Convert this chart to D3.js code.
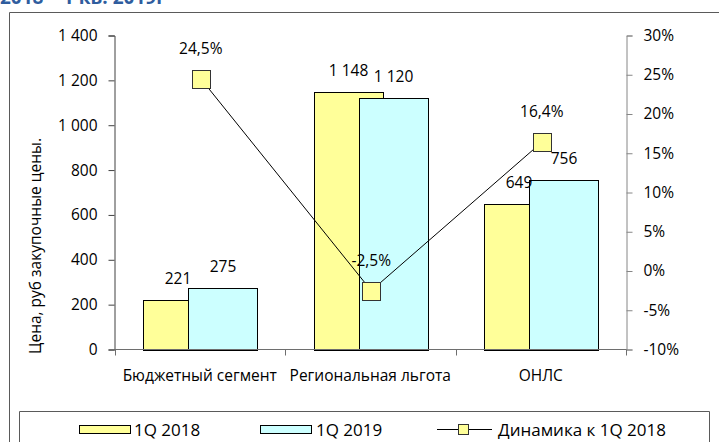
<!DOCTYPE html>
<html><head><meta charset="utf-8">
<script src="https://cdn.jsdelivr.net/npm/d3@7/dist/d3.min.js"></script>
<style>
html,body{margin:0;padding:0;background:#fff;}
svg{display:block;font-family:"Open Sans",sans-serif;}
</style></head>
<body>
<script>
const categories = ["Бюджетный сегмент", "Региональная льгота", "ОНЛС"];
const series2018 = [221, 1148, 649];
const series2019 = [275, 1120, 756];
const dynamics = [24.5, -2.5, 16.4];
const leftTicks = [0, 200, 400, 600, 800, 1000, 1200, 1400];
const rightTicks = [-10, -5, 0, 5, 10, 15, 20, 25, 30];
const seriesNames = ["1Q 2018", "1Q 2019", "Динамика к 1Q 2018"];
const titleText = "2018 – 1 кв. 2019г";
const yTitle = "Цена, руб закупочные цены.";

const W = 719, H = 442;
const FS = 15.5;
const LFS = 17;
const fmtNum = d => d3.format(",")(d).replace(/,/g, " ");
const fmtPct = d => d3.format(".1f")(d).replace(".", ",").replace("\u2212", "-") + "%";

const svg = d3.select("body").append("svg").attr("width", W).attr("height", H);

// partially visible title
svg.append("text").attr("x", 0).attr("y", 4)
  .attr("font-size", 19).attr("font-weight", "bold").attr("fill", "#2f5d9e")
  .text(titleText);

// outer chart frame
svg.append("path").attr("d", `M9.5,${H+2} V12.5 H${W+2}`)
  .attr("fill", "none").attr("stroke", "#5a5a5a").attr("stroke-width", 1);

const x = d3.scaleBand().domain(categories).range([114.5, 626]).padding(0);
const yL = d3.scaleLinear().domain([0, 1400]).range([349.5, 35.5]);
const yR = d3.scaleLinear().domain([-10, 30]).range([349.5, 35.5]);
const bw = x.bandwidth();

// bars
const g = svg.append("g");
g.selectAll(".b18").data(series2018).join("rect")
  .attr("x", (d, i) => Math.round(x(categories[i]) + bw * 0.17) + 0.5)
  .attr("y", d => Math.round(yL(d)) + 0.5)
  .attr("width", Math.round(bw * 0.405))
  .attr("height", d => Math.round(yL(0)) - Math.round(yL(d)))
  .attr("fill", "#ffff99").attr("stroke", "#000").attr("stroke-width", 1);
g.selectAll(".b19").data(series2019).join("rect")
  .attr("x", (d, i) => Math.round(x(categories[i]) + bw * 0.434) + 0.5)
  .attr("y", d => Math.round(yL(d)) + 0.5)
  .attr("width", Math.round(bw * 0.405))
  .attr("height", d => Math.round(yL(0)) - Math.round(yL(d)))
  .attr("fill", "#ccffff").attr("stroke", "#000").attr("stroke-width", 1);

// left axis
const axL = svg.append("g").attr("transform", "translate(114.5,0)")
  .call(d3.axisLeft(yL).tickValues(leftTicks).tickFormat(fmtNum).tickSize(6).tickPadding(11));
axL.select(".domain").attr("stroke", "#404040");
axL.selectAll("line").attr("stroke", "#404040");
axL.selectAll("text").attr("font-size", FS).attr("font-family", "Open Sans").attr("fill", "#000");

// right axis
const axR = svg.append("g").attr("transform", "translate(626.5,0)")
  .call(d3.axisRight(yR).tickValues(rightTicks).tickFormat(d => d + "%").tickSize(6).tickPadding(11));
axR.select(".domain").attr("stroke", "#868686");
axR.selectAll("line").attr("stroke", "#868686");
axR.selectAll("text").attr("font-size", FS).attr("font-family", "Open Sans").attr("fill", "#000");

// bottom axis
const axB = svg.append("g").attr("transform", "translate(0,349.5)");
axB.append("line").attr("x1", 114.5).attr("x2", 626.5).attr("stroke", "#6e6e6e");
const bounds = categories.map(c => x(c)).concat([x.range()[1]]);
axB.selectAll(".tk").data(bounds).join("line")
  .attr("x1", d => Math.round(d) + 0.5).attr("x2", d => Math.round(d) + 0.5)
  .attr("y1", 0).attr("y2", 6).attr("stroke", "#6e6e6e");
axB.selectAll(".cl").data(categories).join("text")
  .attr("x", d => x(d) + bw / 2).attr("y", 31)
  .attr("text-anchor", "middle").attr("font-size", FS).text(d => d);

// y title
svg.append("text").attr("transform", "translate(41,246) rotate(-90)")
  .attr("text-anchor", "middle").attr("font-size", FS).text(yTitle);

// bar labels
svg.selectAll(".l18").data(series2018).join("text")
  .attr("x", (d, i) => x(categories[i]) + bw * 0.17 + bw * 0.2025)
  .attr("y", d => yL(d) - 16).attr("text-anchor", "middle").attr("font-size", FS)
  .text(fmtNum);
svg.selectAll(".l19").data(series2019).join("text")
  .attr("x", (d, i) => x(categories[i]) + bw * 0.434 + bw * 0.2025)
  .attr("y", d => yL(d) - 16).attr("text-anchor", "middle").attr("font-size", FS)
  .text(fmtNum);

// line + markers
const line = d3.line().x((d, i) => x(categories[i]) + bw / 2 + 1).y(d => yR(d));
svg.append("path").datum(dynamics).attr("d", line)
  .attr("fill", "none").attr("stroke", "#000").attr("stroke-width", 1);
const MS = 18;
svg.selectAll(".mk").data(dynamics).join("rect")
  .attr("x", (d, i) => Math.round(x(categories[i]) + bw / 2 + 1 - MS / 2) + 0.5)
  .attr("y", d => Math.round(yR(d) - MS / 2) + 0.5)
  .attr("width", MS).attr("height", MS)
  .attr("fill", "#ffff99").attr("stroke", "#333").attr("stroke-width", 1);
svg.selectAll(".ml").data(dynamics).join("text")
  .attr("x", (d, i) => x(categories[i]) + bw / 2 + 1)
  .attr("y", d => yR(d) - 25).attr("text-anchor", "middle").attr("font-size", FS)
  .text(fmtPct);

// legend
svg.append("path").attr("d", `M19.5,${H+2} V411.5 H709.5 V${H+2}`)
  .attr("fill", "none").attr("stroke", "#5a5a5a");
const lg = svg.append("g");
lg.append("rect").attr("x", 79.5).attr("y", 425.5).attr("width", 51).attr("height", 8)
  .attr("fill", "#ffff99").attr("stroke", "#000");
lg.append("text").attr("x", 134).attr("y", 436).attr("font-size", LFS).text(seriesNames[0]);
lg.append("rect").attr("x", 260.5).attr("y", 425.5).attr("width", 51).attr("height", 8)
  .attr("fill", "#ccffff").attr("stroke", "#000");
lg.append("text").attr("x", 316).attr("y", 436).attr("font-size", LFS).text(seriesNames[1]);
lg.append("line").attr("x1", 437).attr("x2", 492).attr("y1", 429.5).attr("y2", 429.5).attr("stroke", "#000");
lg.append("rect").attr("x", 458.5).attr("y", 424.5).attr("width", 10).attr("height", 10)
  .attr("fill", "#ffff99").attr("stroke", "#333");
lg.append("text").attr("x", 498).attr("y", 436).attr("font-size", LFS).text(seriesNames[2]);
</script>
</body></html>
